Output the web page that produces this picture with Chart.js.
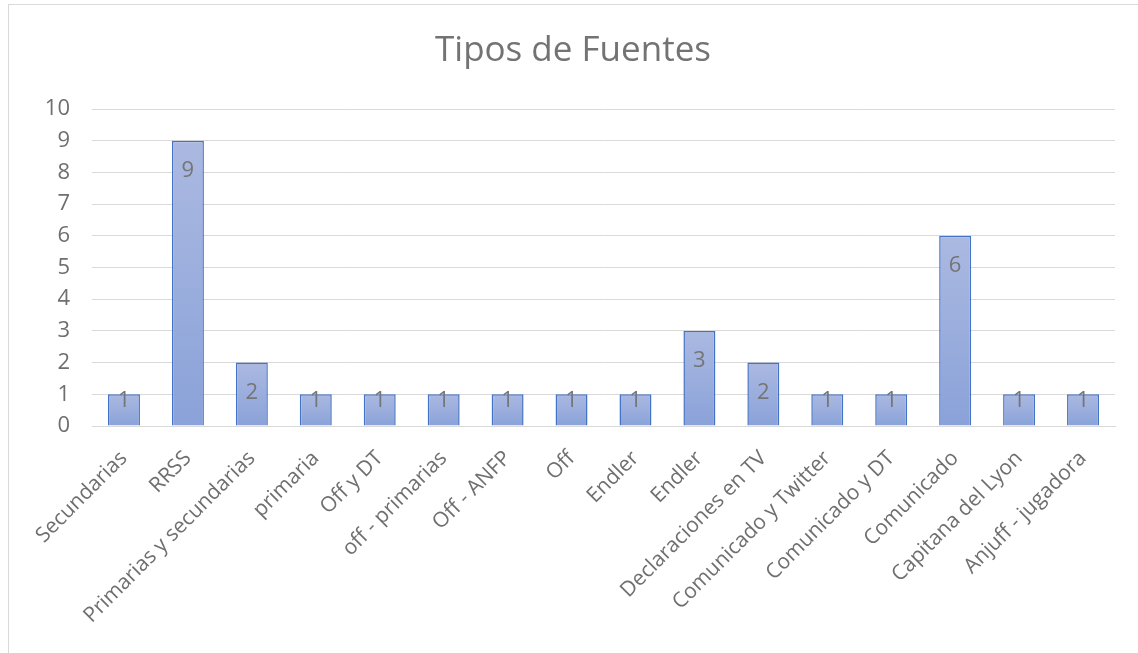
<!DOCTYPE html>
<html>
<head>
<meta charset="utf-8">
<script src="https://cdn.jsdelivr.net/npm/chart.js@4.4.1/dist/chart.umd.min.js"></script>
<style>
  html, body { margin: 0; padding: 0; background: #fff; }
  #wrap { position: relative; width: 1138px; height: 653px; }
  #frame { position: absolute; left: 8px; top: 4px; width: 1140px; height: 660px; border-left: 1px solid #d9d9d9; border-top: 1px solid #d9d9d9; pointer-events: none; }
  canvas { position: absolute; left: 0; top: 0; }
</style>
</head>
<body>
<div id="wrap">
  <canvas id="c" width="1138" height="653"></canvas>
  <div id="frame"></div>
</div>
<script>
const chartTitle = "Tipos de Fuentes";
const categories = [
  "Secundarias", "RRSS", "Primarias y secundarias", "primaria", "Off y DT",
  "off - primarias", "Off - ANFP", "Off", "Endler", "Endler",
  "Declaraciones en TV", "Comunicado y Twitter", "Comunicado y DT",
  "Comunicado", "Capitana del Lyon", "Anjuff - jugadora"
];
const values = [1, 9, 2, 1, 1, 1, 1, 1, 1, 3, 2, 1, 1, 6, 1, 1];
const yTicks = [0, 1, 2, 3, 4, 5, 6, 7, 8, 9, 10];

const FONT = "'Open Sans', 'Segoe UI', sans-serif";
const TEXT = "#6f6f6f";

function barFill(ctx) {
  const chart = ctx.chart;
  const y = chart.scales.y;
  if (!chart.chartArea || !y) return "#9aaedc";
  const top = y.getPixelForValue(ctx.raw);
  const base = y.getPixelForValue(0);
  if (!isFinite(top) || !isFinite(base) || top === base) return "#9aaedc";
  const g = chart.ctx.createLinearGradient(0, top, 0, base);
  g.addColorStop(0, "#abb9e1");
  g.addColorStop(1, "#8aa2d9");
  return g;
}

const dataLabels = {
  id: "dataLabels",
  afterDatasetsDraw(chart) {
    const ctx = chart.ctx;
    const meta = chart.getDatasetMeta(0);
    ctx.save();
    ctx.font = "22px " + FONT;
    ctx.fillStyle = "#757575";
    ctx.textAlign = "center";
    ctx.textBaseline = "middle";
    meta.data.forEach((bar, i) => {
      const yy = Math.min(bar.y + 30, bar.base - 25);
      ctx.fillText(String(values[i]), bar.x, yy);
    });
    ctx.restore();
  }
};

new Chart(document.getElementById("c"), {
  type: "bar",
  data: {
    labels: categories,
    datasets: [{
      data: values,
      backgroundColor: barFill,
      borderColor: "#4472c4",
      borderWidth: 1.5,
      categoryPercentage: 1,
      barPercentage: 0.5
    }]
  },
  options: {
    responsive: false,
    animation: false,
    devicePixelRatio: 1,
    layout: { padding: { left: 8, right: 0, top: 0, bottom: 0 } },
    plugins: {
      legend: { display: false },
      tooltip: { enabled: false },
      title: {
        display: true,
        text: chartTitle,
        color: "#737373",
        font: { family: FONT, size: 35, weight: "normal" },
        padding: { top: 30, bottom: 37 }
      }
    },
    scales: {
      x: {
        grid: { display: false, drawTicks: false },
        border: { display: true, color: "#d9d9d9", width: 1 },
        ticks: {
          color: TEXT,
          font: { family: FONT, size: 21 },
          minRotation: 45,
          maxRotation: 45,
          autoSkip: false,
          padding: 20
        },
        afterFit(scale) { scale.height = 227; }
      },
      y: {
        min: 0,
        max: 10,
        afterBuildTicks(scale) { scale.ticks = yTicks.map(v => ({ value: v })); },
        grid: { color: "#d9d9d9", lineWidth: 1, drawTicks: false },
        border: { display: false },
        ticks: {
          color: TEXT,
          font: { family: FONT, size: 22 },
          padding: 22
        },
        afterFit(scale) { scale.width = 84; }
      },
      yRight: {
        position: "right",
        min: 0,
        max: 10,
        grid: { display: false, drawTicks: false },
        border: { display: false },
        ticks: { display: false },
        afterFit(scale) { scale.width = 23; }
      }
    }
  },
  plugins: [dataLabels]
});
</script>
</body>
</html>
